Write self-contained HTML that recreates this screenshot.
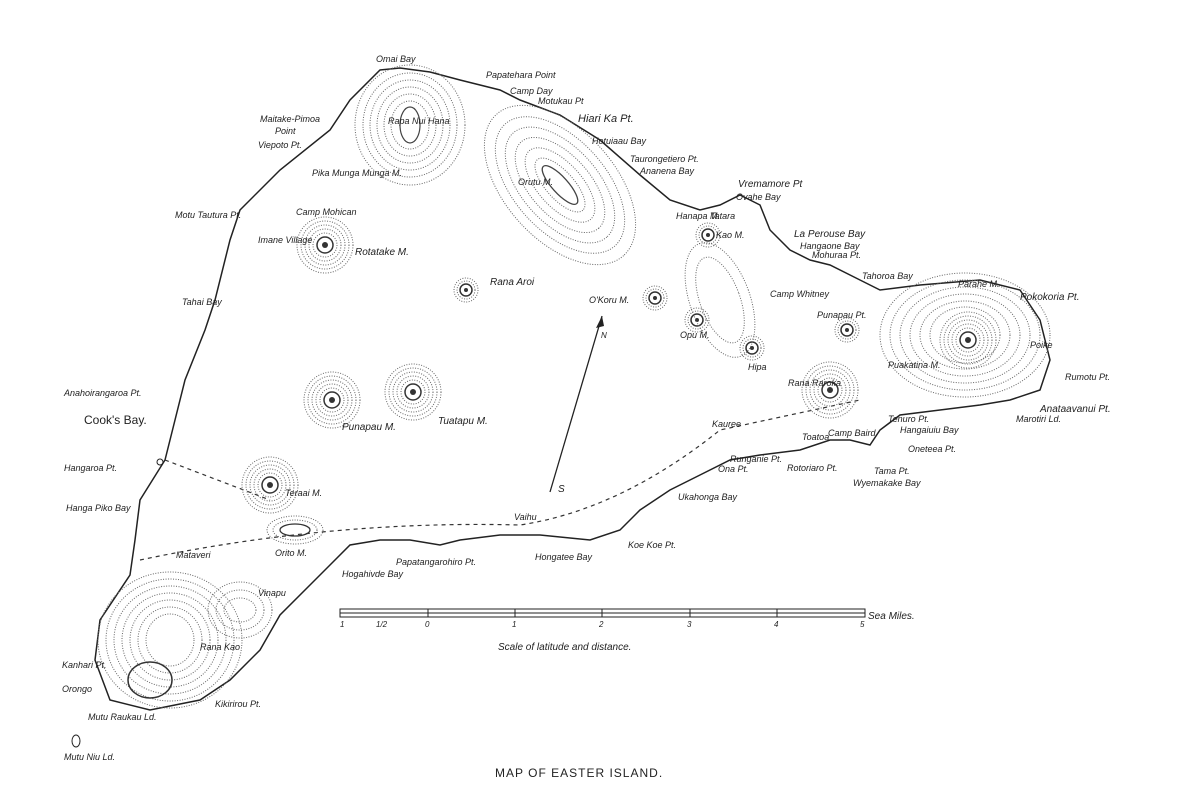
<!DOCTYPE html>
<html><head><meta charset="utf-8"><style>
html,body{margin:0;padding:0;background:#fff;}
svg{display:block}
text{font-family:"Liberation Sans",sans-serif;fill:#222;font-style:italic;}
.h{fill:none;stroke:#666;stroke-width:1;stroke-dasharray:1 1.5}
</style></head><body>
<svg width="1198" height="800" viewBox="0 0 1198 800" xmlns="http://www.w3.org/2000/svg">
<defs>
<g id="volc">
<circle r="28" class="h"/><circle r="24" class="h"/><circle r="20" class="h"/><circle r="16" class="h"/><circle r="12" class="h"/>
<circle r="8" fill="none" stroke="#333" stroke-width="1.5"/>
<circle r="3" fill="#333"/>
</g>
<g id="sv">
<circle r="12" class="h"/><circle r="9" class="h"/>
<circle r="6" fill="none" stroke="#333" stroke-width="1.5"/>
<circle r="2" fill="#333"/>
</g>
</defs>
<path d="M380,70 L400,68 430,72 460,80 500,90 520,100 560,115 600,140 640,175 670,200 700,210 720,205 740,195 760,205 770,230 790,250 810,260 830,265 860,280 880,290 920,285 980,280 1020,290 1040,320 1050,360 1040,390 1010,400 980,405 940,410 900,415 880,430 870,445 850,440 830,440 800,450 760,455 730,460 700,475 670,490 640,510 620,530 590,540 540,535 500,535 460,540 440,545 410,540 380,540 350,545 330,565 310,585 280,615 260,650 230,680 200,700 150,710 110,700 95,660 100,620 130,575 135,540 140,500 165,460 175,420 185,380 205,330 215,300 230,240 240,210 280,170 330,130 350,100 Z" fill="none" stroke="#222" stroke-width="1.5"/>
<path d="M165,460 L270,500 M140,560 Q330,520 520,525 Q620,510 720,430 L860,400" fill="none" stroke="#333" stroke-width="1.2" stroke-dasharray="4 4"/>
<!-- Rapa Nui Hana -->
<g transform="translate(410,125)">
<ellipse rx="55" ry="60" class="h"/><ellipse rx="47" ry="52" class="h"/><ellipse rx="40" ry="45" class="h"/><ellipse rx="33" ry="38" class="h"/><ellipse rx="26" ry="31" class="h"/><ellipse rx="19" ry="24" class="h"/>
<ellipse rx="10" ry="18" fill="none" stroke="#444" stroke-width="1.2"/></g>
<!-- Orutu ridge -->
<g transform="translate(560,185) rotate(48)">
<ellipse rx="95" ry="55" class="h"/><ellipse rx="82" ry="46" class="h"/><ellipse rx="70" ry="38" class="h"/><ellipse rx="58" ry="30" class="h"/><ellipse rx="46" ry="22" class="h"/><ellipse rx="34" ry="14" class="h"/>
<ellipse rx="25" ry="8" fill="none" stroke="#444" stroke-width="1.3"/></g>
<!-- Poike -->
<g transform="translate(965,335)">
<ellipse rx="85" ry="62" class="h"/><ellipse rx="75" ry="55" class="h"/><ellipse rx="65" ry="48" class="h"/><ellipse rx="55" ry="41" class="h"/><ellipse rx="45" ry="34" class="h"/><ellipse rx="35" ry="28" class="h"/></g>
<use href="#volc" x="968" y="340"/>
<!-- Rano Kau -->
<g transform="translate(170,640)">
<ellipse rx="72" ry="68" class="h"/><ellipse rx="64" ry="61" class="h"/><ellipse rx="56" ry="54" class="h"/><ellipse rx="48" ry="47" class="h"/><ellipse rx="40" ry="40" class="h"/><ellipse rx="32" ry="33" class="h"/><ellipse rx="24" ry="26" class="h"/></g>
<ellipse cx="150" cy="680" rx="22" ry="18" fill="none" stroke="#333" stroke-width="1.5"/>
<g transform="translate(240,610)"><ellipse rx="32" ry="28" class="h"/><ellipse rx="24" ry="20" class="h"/><ellipse rx="16" ry="12" class="h"/></g>
<use href="#volc" x="325" y="245"/>
<use href="#volc" x="332" y="400"/>
<use href="#volc" x="413" y="392"/>
<use href="#volc" x="270" y="485"/>
<use href="#volc" x="830" y="390"/>
<use href="#sv" x="466" y="290"/>
<use href="#sv" x="655" y="298"/>
<use href="#sv" x="697" y="320"/>
<use href="#sv" x="752" y="348"/>
<use href="#sv" x="708" y="235"/>
<use href="#sv" x="847" y="330"/>
<g transform="translate(295,530)"><ellipse rx="28" ry="14" class="h"/><ellipse rx="22" ry="10" class="h"/></g>
<ellipse cx="295" cy="530" rx="15" ry="6" fill="none" stroke="#333" stroke-width="1.3"/>
<g transform="translate(720,300) rotate(-20)"><ellipse rx="30" ry="60" class="h"/><ellipse rx="20" ry="45" class="h"/></g>
<!-- arrow -->
<line x1="602" y1="316" x2="550" y2="492" stroke="#222" stroke-width="1.3"/>
<path d="M602,316 L596,328 L604,326 Z" fill="#222"/>
<text x="601" y="338" font-size="8">N</text>
<text x="558" y="492" font-size="10">S</text>
<!-- scale -->
<rect x="340" y="609" width="525" height="8" fill="none" stroke="#222"/>
<line x1="340" y1="613" x2="865" y2="613" stroke="#222"/>
<line x1="428" y1="609" x2="428" y2="617" stroke="#222"/>
<line x1="515" y1="609" x2="515" y2="617" stroke="#222"/>
<line x1="602" y1="609" x2="602" y2="617" stroke="#222"/>
<line x1="690" y1="609" x2="690" y2="617" stroke="#222"/>
<line x1="777" y1="609" x2="777" y2="617" stroke="#222"/>
<g font-size="8"><text x="340" y="627">1</text><text x="376" y="627">1/2</text><text x="425" y="627">0</text><text x="512" y="627">1</text><text x="599" y="627">2</text><text x="687" y="627">3</text><text x="774" y="627">4</text><text x="860" y="627">5</text></g>
<text x="868" y="619" font-size="10">Sea Miles.</text>
<text x="498" y="650" font-size="10">Scale of latitude and distance.</text>
<text x="495" y="777" font-size="12" style="font-style:normal;letter-spacing:1px">MAP OF EASTER ISLAND.</text>
<!-- labels -->
<g font-size="9">
<text x="376" y="62">Omai Bay</text>
<text x="486" y="78">Papatehara Point</text>
<text x="510" y="94">Camp Day</text>
<text x="538" y="104">Motukau Pt</text>
<text x="578" y="122" font-size="11">Hiari Ka Pt.</text>
<text x="592" y="144">Hotuiaau Bay</text>
<text x="630" y="162">Taurongetiero Pt.</text>
<text x="640" y="174">Ananena Bay</text>
<text x="738" y="187" font-size="10">Vremamore Pt</text>
<text x="736" y="200">Ovahe Bay</text>
<text x="794" y="237" font-size="10">La Perouse Bay</text>
<text x="800" y="249">Hangaone Bay</text>
<text x="812" y="258">Mohuraa Pt.</text>
<text x="862" y="279">Tahoroa Bay</text>
<text x="958" y="287">Parahe M.</text>
<text x="1020" y="300" font-size="10">Pokokoria Pt.</text>
<text x="1065" y="380">Rumotu Pt.</text>
<text x="1040" y="412" font-size="10">Anataavanui Pt.</text>
<text x="1016" y="422">Marotiri Ld.</text>
<text x="888" y="368">Puakatina M.</text>
<text x="1030" y="348">Poike</text>
<text x="888" y="422">Tenuro Pt.</text>
<text x="900" y="433">Hangaiuiu Bay</text>
<text x="908" y="452">Oneteea Pt.</text>
<text x="874" y="474">Tama Pt.</text>
<text x="853" y="486">Wyemakake Bay</text>
<text x="787" y="471">Rotoriaro Pt.</text>
<text x="828" y="436">Camp Baird</text>
<text x="802" y="440">Toatoa</text>
<text x="730" y="462">Runganie Pt.</text>
<text x="718" y="472">Ona Pt.</text>
<text x="678" y="500">Ukahonga Bay</text>
<text x="628" y="548">Koe Koe Pt.</text>
<text x="535" y="560">Hongatee Bay</text>
<text x="514" y="520">Vaihu</text>
<text x="396" y="565">Papatangarohiro Pt.</text>
<text x="342" y="577">Hogahivde Bay</text>
<text x="712" y="427">Kauree</text>
<text x="788" y="386">Rana Raroka</text>
<text x="817" y="318">Punapau Pt.</text>
<text x="770" y="297">Camp Whitney</text>
<text x="748" y="370">Hipa</text>
<text x="680" y="338">Opu M.</text>
<text x="589" y="303">O'Koru M.</text>
<text x="716" y="238">Kao M.</text>
<text x="676" y="219">Hanapa M.</text>
<text x="710" y="219">Tatara</text>
<text x="518" y="185">Orutu M.</text>
<text x="490" y="285" font-size="10">Rana Aroi</text>
<text x="388" y="124">Rapa Nui Hana</text>
<text x="312" y="176">Pika Munga Munga M.</text>
<text x="260" y="122">Maitake-Pimoa</text>
<text x="275" y="134">Point</text>
<text x="258" y="148">Viepoto Pt.</text>
<text x="296" y="215">Camp Mohican</text>
<text x="175" y="218">Motu Tautura Pt.</text>
<text x="258" y="243">Imane Village</text>
<text x="355" y="255" font-size="10">Rotatake M.</text>
<text x="182" y="305">Tahai Bay</text>
<text x="64" y="396">Anahoirangaroa Pt.</text>
<text x="84" y="424" font-size="12" style="font-style:normal">Cook's Bay.</text>
<text x="64" y="471">Hangaroa Pt.</text>
<text x="66" y="511">Hanga Piko Bay</text>
<text x="342" y="430" font-size="10">Punapau M.</text>
<text x="438" y="424" font-size="10">Tuatapu M.</text>
<text x="285" y="496">Teraai M.</text>
<text x="275" y="556">Orito M.</text>
<text x="176" y="558">Mataveri</text>
<text x="258" y="596">Vinapu</text>
<text x="200" y="650">Rana Kao</text>
<text x="62" y="668">Kanhari Pt.</text>
<text x="62" y="692">Orongo</text>
<text x="88" y="720">Mutu Raukau Ld.</text>
<text x="215" y="707">Kikirirou Pt.</text>
<text x="64" y="760">Mutu Niu Ld.</text>
</g>
<ellipse cx="76" cy="741" rx="4" ry="6" fill="none" stroke="#222"/>
<circle cx="160" cy="462" r="3" fill="none" stroke="#222"/>
</svg>
</body></html>
